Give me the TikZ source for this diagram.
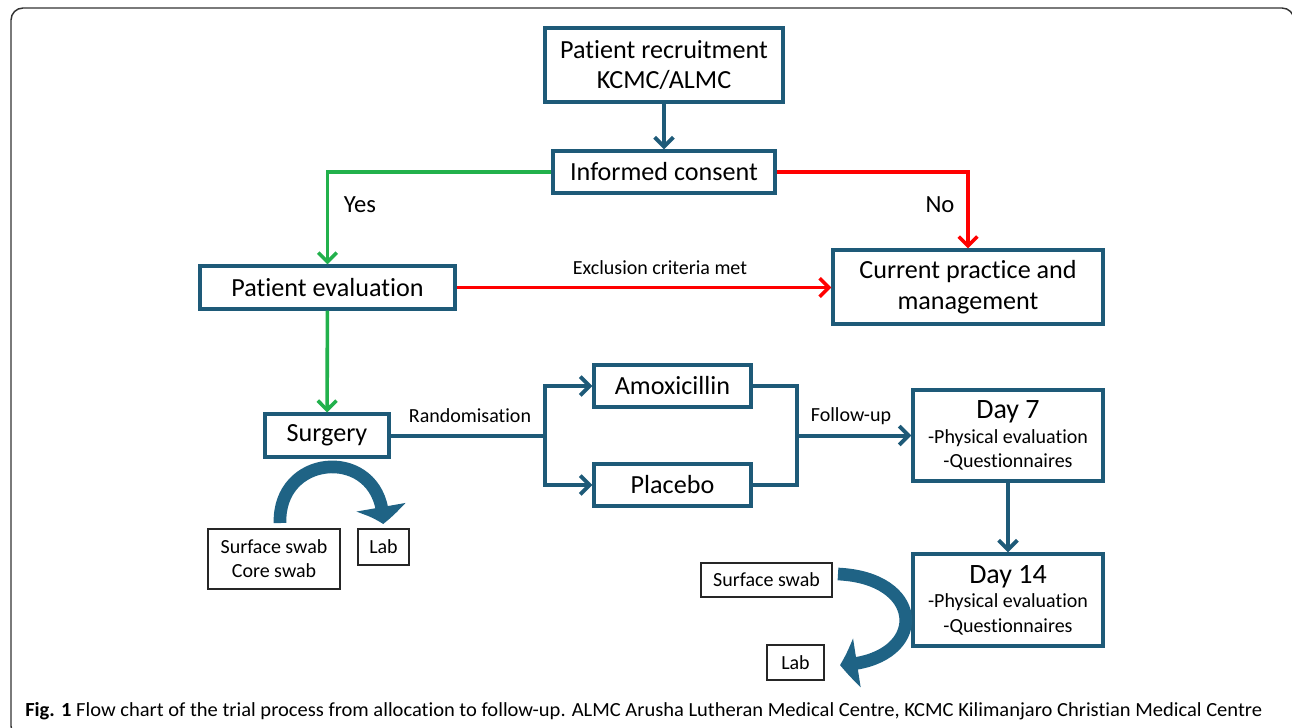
\documentclass[tikz,border=0pt]{standalone}
\usepackage{fontspec}
\usepackage{graphicx}
\setmainfont{Carlito}[Ligatures=NoCommon]
\usetikzlibrary{arrows.meta,calc,bending}
\definecolor{teal1}{HTML}{1E5A78}
\definecolor{tealb}{HTML}{1F6385}
\definecolor{grn}{HTML}{22B14C}
\definecolor{rd}{HTML}{FF0000}
\definecolor{frame}{HTML}{333333}
\begin{document}
\begin{tikzpicture}[x=0.75pt,y=-0.75pt,
  box/.style={draw=teal1,line width=2.3pt,fill=white,inner sep=0pt,align=center,font=\fontsize{19.6}{23}\selectfont},
  sbox/.style={draw=black!85,line width=1.1pt,fill=white,inner sep=0pt,align=center,font=\fontsize{15}{18}\selectfont},
  lbl/.style={font=\fontsize{15}{18}\selectfont},
  biglbl/.style={font=\fontsize{18.5}{21}\selectfont},
  tline/.style={draw=teal1,line width=3pt},
  tarrow/.style={tline,-{Straight Barb[length=7pt,width=14pt]}},
  garrow/.style={draw=grn,line width=2.7pt,-{Straight Barb[length=7pt,width=14pt]}},
  rarrow/.style={draw=rd,line width=2.7pt,-{Straight Barb[length=7pt,width=14pt]}},
  blk/.style={draw=tealb,line width=9.5pt,-{Triangle[width=36pt,length=13pt,bend]}}
]
\useasboundingbox (0,0) rectangle (1292,728);
\clip (0,0) rectangle (1292,728);
\draw[frame,line width=1.1pt,rounded corners=9pt] (11,8) rectangle (1294,738);

% nodes
\node[box,minimum width=178.5pt,minimum height=55.5pt] (rec) at (664,65) {Patient recruitment\\KCMC/ALMC};
\node[box,minimum width=166.5pt,minimum height=31.5pt] (con) at (664,172) {Informed consent};
\node[box,minimum width=191.25pt,minimum height=32.25pt] (pe) at (327.5,287.5) {Patient evaluation};
\node[box,minimum width=202.5pt,minimum height=55.5pt] (cur) at (968,287) {Current practice and\\management};
\node[box,minimum width=93pt,minimum height=32.25pt] (surg) at (327,435.5) {Surgery};
\node[box,minimum width=117.75pt,minimum height=31.5pt] (amox) at (672.5,386) {Amoxicillin};
\node[box,minimum width=117.75pt,minimum height=31.5pt] (plac) at (672.5,485) {Placebo};
\node[box,minimum width=142.5pt,minimum height=68.25pt,font=\fontsize{15}{18.5}\selectfont] (d7) at (1008,435.5) {{\fontsize{21}{23}\selectfont Day 7}\\-Physical evaluation\\-Questionnaires};
\node[box,minimum width=142.5pt,minimum height=69pt,font=\fontsize{15}{18.5}\selectfont] (d14) at (1008,600) {{\fontsize{21}{23}\selectfont Day 14}\\-Physical evaluation\\-Questionnaires};
\node[sbox,minimum width=99pt,minimum height=45pt] (sw1) at (274,559) {Surface swab\\Core swab};
\node[sbox,minimum width=38.25pt,minimum height=27pt] (lab1) at (383.5,547) {Lab};
\node[sbox,minimum width=98.25pt,minimum height=25.5pt] (sw2) at (766.5,580) {Surface swab};
\node[sbox,minimum width=42.75pt,minimum height=26.25pt] (lab2) at (795.5,662.5) {Lab};

% labels
\node[biglbl] (yes) at (360,205) {Yes};
\node[biglbl] (no) at (940,205) {No};
\node[lbl] (excl) at (660,268) {Exclusion criteria met};
\node[lbl] (rand) at (470,416) {Randomisation};
\node[lbl] (fu) at (851,416) {Follow-up};

% connectors
\draw[tarrow] (rec) -- (con);
\draw[garrow] (con.west) -| (pe.north);
\draw[rarrow] (con.east) -| (cur.north);
\draw[rarrow] (pe.east) -- (pe.east -| cur.west);
\draw[garrow] (pe) -- (surg);
\coordinate (j1) at (545,435.5);
\draw[tline] (surg.east) -- (j1);
\draw[tarrow] (j1) |- (amox.west);
\draw[tarrow] (j1) |- (plac.west);
\coordinate (j2) at (797,435.5);
\draw[tline] (amox.east) -| (j2) |- (plac.east);
\draw[tarrow] (j2) -- (d7.west);
\draw[tarrow] (d7) -- (d14);

% curved block arrows
\coordinate (c1s) at (280,523);
\coordinate (c1e) at (383,524);
\draw[blk] (c1s) .. controls (278,450) and (385,446) .. (c1e);
\coordinate (c2s) at (838,574);
\coordinate (c2e) at (840,665);
\draw[blk] (c2s) .. controls (928,578) and (928,662) .. (c2e);

% caption
\node[anchor=base west,inner sep=0pt] (cap) at (25,716) {\resizebox{927.75pt}{\height}{\fontsize{15}{18}\selectfont\textbf{Fig. 1} Flow chart of the trial process from allocation to follow-up. ALMC Arusha Lutheran Medical Centre, KCMC Kilimanjaro Christian Medical Centre}};
\end{tikzpicture}
\end{document}
